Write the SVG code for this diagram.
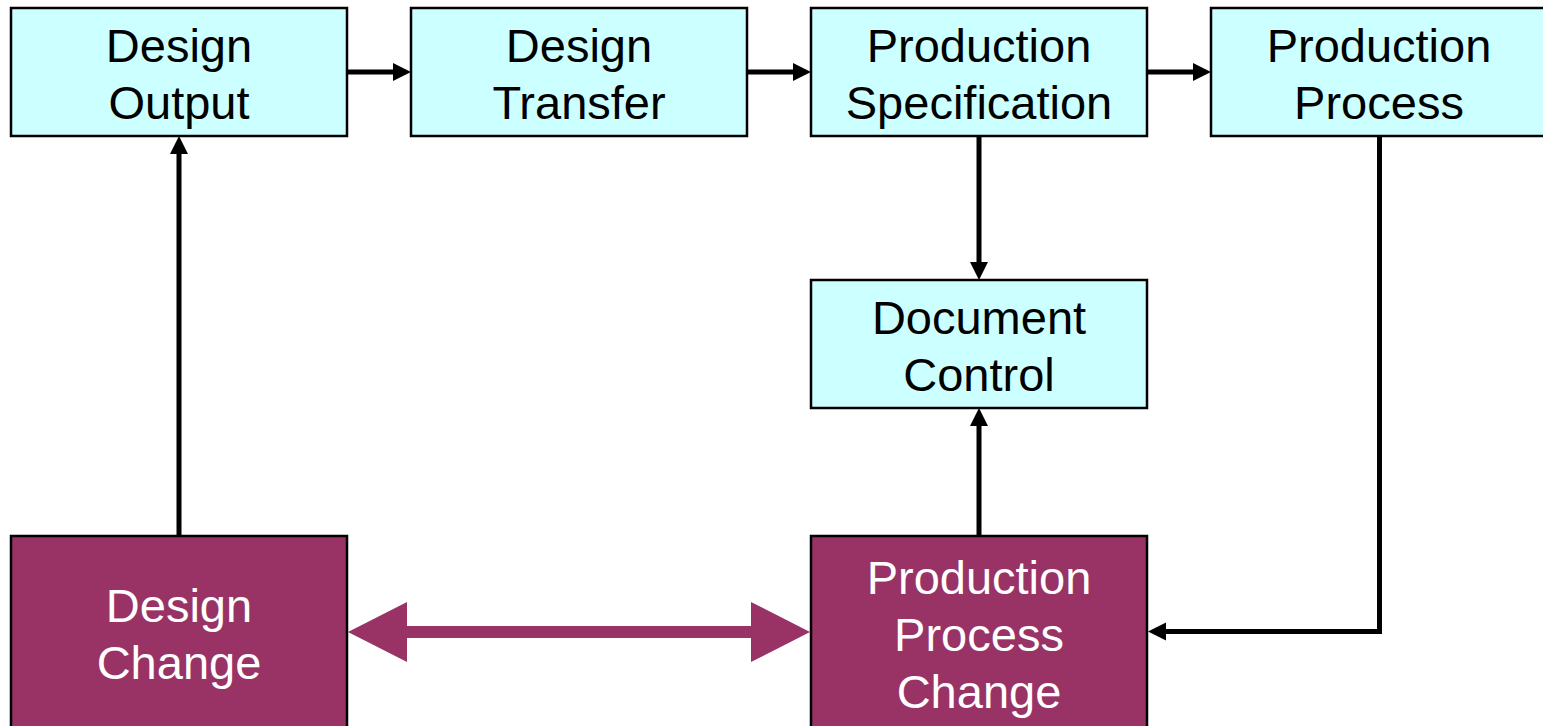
<svg xmlns="http://www.w3.org/2000/svg" width="1543" height="726" viewBox="0 0 1543 726">
<style>
.c{fill:#CCFFFF;stroke:#000;stroke-width:2.5}
.m{fill:#993366;stroke:#000;stroke-width:2.5}
text{font-family:"Liberation Sans",Arial,sans-serif;font-size:47px;text-anchor:middle}
.tc{fill:#000}
.tm{fill:#fff}
.ln{stroke:#000;stroke-width:5;fill:none}
.ah{fill:#000}
.mg{fill:#993366}
</style>
<rect width="1543" height="726" fill="#fff"/>
<g id="connectors">
<line class="ln" x1="348" y1="72" x2="395" y2="72"/>
<polygon class="ah" points="411,72 393,63 393,81"/>
<line class="ln" x1="748" y1="72" x2="795" y2="72"/>
<polygon class="ah" points="811,72 793,63 793,81"/>
<line class="ln" x1="1148" y1="72" x2="1195" y2="72"/>
<polygon class="ah" points="1211,72 1193,63 1193,81"/>
<line class="ln" x1="979" y1="137" x2="979" y2="264"/>
<polygon class="ah" points="979,280 970,262 988,262"/>
<line class="ln" x1="979" y1="535" x2="979" y2="424"/>
<polygon class="ah" points="979,408 970,426 988,426"/>
<line class="ln" x1="179" y1="535" x2="179" y2="152"/>
<polygon class="ah" points="179,136 170,154 188,154"/>
<polyline class="ln" points="1379.5,137 1379.5,631.5 1163,631.5"/>
<polygon class="ah" points="1148,631.5 1166,622.5 1166,640.5"/>
<rect class="mg" x="405" y="626" width="348" height="12"/>
<polygon class="mg" points="348,632 407,602 407,662"/>
<polygon class="mg" points="810,632 751,602 751,662"/>
</g>
<g id="design-output">
<rect class="c" x="11" y="8" width="336" height="128"/>
<text class="tc" x="179" y="62">Design</text>
<text class="tc" x="179" y="119">Output</text>
</g>
<g id="design-transfer">
<rect class="c" x="411" y="8" width="336" height="128"/>
<text class="tc" x="579" y="62">Design</text>
<text class="tc" x="579" y="119">Transfer</text>
</g>
<g id="production-specification">
<rect class="c" x="811" y="8" width="336" height="128"/>
<text class="tc" x="979" y="62">Production</text>
<text class="tc" x="979" y="119">Specification</text>
</g>
<g id="production-process">
<rect class="c" x="1211" y="8" width="336" height="128"/>
<text class="tc" x="1379" y="62">Production</text>
<text class="tc" x="1379" y="119">Process</text>
</g>
<g id="document-control">
<rect class="c" x="811" y="280" width="336" height="128"/>
<text class="tc" x="979" y="334">Document</text>
<text class="tc" x="979" y="391">Control</text>
</g>
<g id="design-change">
<rect class="m" x="11" y="536" width="336" height="194"/>
<text class="tm" x="179" y="622">Design</text>
<text class="tm" x="179" y="679">Change</text>
</g>
<g id="production-process-change">
<rect class="m" x="811" y="536" width="336" height="194"/>
<text class="tm" x="979" y="594">Production</text>
<text class="tm" x="979" y="651">Process</text>
<text class="tm" x="979" y="708">Change</text>
</g>
</svg>
